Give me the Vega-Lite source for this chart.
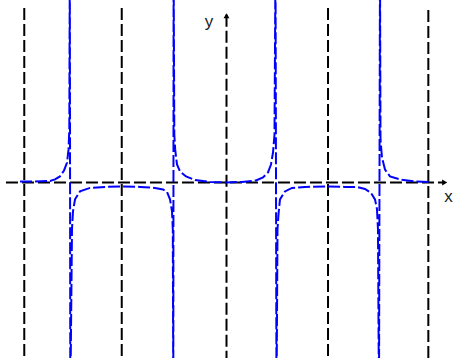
{
  "$schema": "https://vega.github.io/schema/vega-lite/v6.json",
  "width": 453,
  "height": 359,
  "autosize": {"type": "fit", "contains": "padding"},
  "padding": 0,
  "background": "white",
  "config": {"view": {"stroke": null}},
  "datasets": {
    "curve": [
      {"x": -2.042, "y": 0.45},
      {"x": -1.894, "y": 0.45},
      {"x": -1.745, "y": 0.67},
      {"x": -1.696, "y": 1.35},
      {"x": -1.647, "y": 2.7},
      {"x": -1.607, "y": 5.4},
      {"x": -1.577, "y": 9.0},
      {"x": -1.5625, "y": 14.8},
      {"x": -1.5546, "y": 23.8},
      {"x": -1.5496, "y": 100},
      {"x": -1.5447, "y": -100},
      {"x": -1.528, "y": -21.1},
      {"x": -1.518, "y": -13.0},
      {"x": -1.498, "y": -7.6},
      {"x": -1.449, "y": -4.05},
      {"x": -1.35, "y": -2.47},
      {"x": -1.2015, "y": -2.02},
      {"x": -1.0334, "y": -1.8},
      {"x": -0.855, "y": -2.02},
      {"x": -0.707, "y": -2.47},
      {"x": -0.628, "y": -3.15},
      {"x": -0.588, "y": -4.27},
      {"x": -0.5587, "y": -7.65},
      {"x": -0.539, "y": -13.0},
      {"x": -0.531, "y": -21.1},
      {"x": -0.5261, "y": -100},
      {"x": -0.5231, "y": 100},
      {"x": -0.5162, "y": 21.6},
      {"x": -0.5073, "y": 14.8},
      {"x": -0.4895, "y": 8.1},
      {"x": -0.46, "y": 4.95},
      {"x": -0.4005, "y": 2.7},
      {"x": -0.3115, "y": 1.12},
      {"x": -0.163, "y": 0.22},
      {"x": 0.0, "y": 0.0},
      {"x": 0.153, "y": 0.22},
      {"x": 0.2917, "y": 0.9},
      {"x": 0.361, "y": 2.25},
      {"x": 0.4104, "y": 4.5},
      {"x": 0.44, "y": 8.1},
      {"x": 0.46, "y": 13.5},
      {"x": 0.4747, "y": 21.6},
      {"x": 0.4846, "y": 100},
      {"x": 0.4945, "y": -100},
      {"x": 0.5044, "y": -21.1},
      {"x": 0.5142, "y": -14.4},
      {"x": 0.529, "y": -7.65},
      {"x": 0.5785, "y": -4.05},
      {"x": 0.6477, "y": -2.47},
      {"x": 0.7763, "y": -2.02},
      {"x": 1.0038, "y": -1.8},
      {"x": 1.1719, "y": -2.02},
      {"x": 1.2905, "y": -2.02},
      {"x": 1.3697, "y": -2.92},
      {"x": 1.429, "y": -4.72},
      {"x": 1.4685, "y": -7.65},
      {"x": 1.4883, "y": -12.1},
      {"x": 1.498, "y": -21.1},
      {"x": 1.508, "y": -100},
      {"x": 1.518, "y": 100},
      {"x": 1.523, "y": 19.3},
      {"x": 1.5378, "y": 11.2},
      {"x": 1.5674, "y": 5.85},
      {"x": 1.617, "y": 2.7},
      {"x": 1.7158, "y": 1.35},
      {"x": 1.864, "y": 0.45},
      {"x": 2.0125, "y": 0.22}
    ],
    "grid": [
      {"x": -2.0, "top": 78.7, "bottom": -79.2},
      {"x": -1.036, "top": 78.7, "bottom": -79.2},
      {"x": 1.004, "top": 78.7, "bottom": -79.2},
      {"x": 1.996, "top": 77.8, "bottom": -79.2}
    ],
    "labels": [
      {"x": 2.196, "y": -9.0, "text": "x"},
      {"x": -0.173, "y": 70.2, "text": "y"}
    ],
    "arrows": [
      {"x": 2.158, "y": 0, "dir": "right"},
      {"x": 0.0, "y": 75.2, "dir": "up"}
    ]
  },
  "layer": [
    {
      "data": {"name": "grid"},
      "mark": {"type": "rule", "color": "black", "strokeWidth": 2, "strokeDash": [12, 4]},
      "encoding": {
        "x": {"field": "x", "type": "quantitative", "scale": {"domain": [-2.24, 2.24], "nice": false, "zero": false}, "axis": null},
        "y": {"field": "top", "type": "quantitative", "scale": {"domain": [-79.2, 82.3], "nice": false, "zero": false}, "axis": null},
        "y2": {"field": "bottom"}
      }
    },
    {
      "data": {"values": [{"x1": -2.181, "x2": 2.141, "y": 0}]},
      "mark": {"type": "rule", "color": "black", "strokeWidth": 2, "strokeDash": [12, 4]},
      "encoding": {
        "x": {"field": "x1", "type": "quantitative"},
        "x2": {"field": "x2"},
        "y": {"field": "y", "type": "quantitative"}
      }
    },
    {
      "data": {"values": [{"x": 0, "y1": 75.6, "y2": -79.2}]},
      "mark": {"type": "rule", "color": "black", "strokeWidth": 2, "strokeDash": [12, 4]},
      "encoding": {
        "x": {"field": "x", "type": "quantitative"},
        "y": {"field": "y1", "type": "quantitative"},
        "y2": {"field": "y2"}
      }
    },
    {
      "data": {"name": "curve"},
      "mark": {"type": "line", "color": "#0000ff", "strokeWidth": 2, "strokeDash": [12, 3], "clip": true},
      "encoding": {
        "x": {"field": "x", "type": "quantitative"},
        "y": {"field": "y", "type": "quantitative"}
      }
    },
    {
      "data": {"name": "arrows"},
      "mark": {"type": "point", "filled": true, "color": "black", "opacity": 1, "size": 35},
      "encoding": {
        "x": {"field": "x", "type": "quantitative"},
        "y": {"field": "y", "type": "quantitative"},
        "shape": {"field": "dir", "type": "nominal", "scale": {"domain": ["right", "up"], "range": ["triangle-right", "triangle-up"]}, "legend": null}
      }
    },
    {
      "data": {"name": "labels"},
      "mark": {"type": "text", "font": "Liberation Sans", "fontSize": 17, "align": "center", "baseline": "alphabetic", "color": "#222"},
      "encoding": {
        "x": {"field": "x", "type": "quantitative"},
        "y": {"field": "y", "type": "quantitative"},
        "text": {"field": "text"}
      }
    }
  ]
}
